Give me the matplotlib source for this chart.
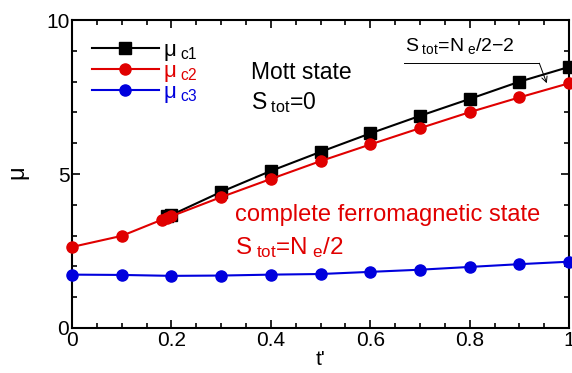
import matplotlib
matplotlib.use("Agg")
import matplotlib.pyplot as plt
from matplotlib.ticker import MultipleLocator

plt.rcParams['font.family'] = ['Liberation Sans', 'DejaVu Sans']
plt.rcParams['mathtext.fontset'] = 'custom'
plt.rcParams['mathtext.rm'] = 'Liberation Sans'
plt.rcParams['mathtext.it'] = 'Liberation Sans'

# mu_c1 (black squares)
t_c1 = [0.19, 0.2, 0.3, 0.4, 0.5, 0.6, 0.7, 0.8, 0.9, 1.0]
mu_c1 = [3.62, 3.67, 4.42, 5.10, 5.72, 6.32, 6.89, 7.44, 8.0, 8.48]

# mu_c2 (red circles)
t_c2 = [0.0, 0.1, 0.18, 0.19, 0.2, 0.3, 0.4, 0.5, 0.6, 0.7, 0.8, 0.9, 1.0]
mu_c2 = [2.63, 2.99, 3.51, 3.57, 3.63, 4.25, 4.84, 5.42, 5.96, 6.49, 7.01, 7.49, 7.95]

# mu_c3 (blue circles)
t_c3 = [0.0, 0.1, 0.2, 0.3, 0.4, 0.5, 0.6, 0.7, 0.8, 0.9, 1.0]
mu_c3 = [1.73, 1.72, 1.69, 1.70, 1.73, 1.75, 1.82, 1.89, 1.98, 2.07, 2.15]

red = '#e00000'
blue = '#0000dd'

fig = plt.figure(figsize=(5.72, 3.73), dpi=100)
ax = fig.add_axes([0.126, 0.121, 0.869, 0.825])

ax.plot(t_c1, mu_c1, color='black', marker='s', markersize=8.5, lw=1.5,
        label=r'$\mu_{\rm\ c1}$', clip_on=False, zorder=3)
ax.plot(t_c2, mu_c2, color=red, marker='o', markersize=8, lw=1.5,
        label=r'$\mu_{\rm\ c2}$', clip_on=False, zorder=4)
ax.plot(t_c3, mu_c3, color=blue, marker='o', markersize=8, lw=1.5,
        label=r'$\mu_{\rm\ c3}$', clip_on=False, zorder=4)

ax.set_xlim(0, 1)
ax.set_ylim(0, 10)
ax.xaxis.set_major_locator(MultipleLocator(0.2))
ax.xaxis.set_minor_locator(MultipleLocator(0.05))
ax.yaxis.set_major_locator(MultipleLocator(5))
ax.yaxis.set_minor_locator(MultipleLocator(1))
ax.set_xticks([0, 0.2, 0.4, 0.6, 0.8, 1.0])
ax.set_xticklabels(['0', '0.2', '0.4', '0.6', '0.8', '1'])
ax.tick_params(which='both', direction='in', top=True, right=True, labelsize=15, width=1.2)
ax.tick_params(which='major', length=6, pad=2)
ax.tick_params(which='minor', length=3.5)
for s in ax.spines.values():
    s.set_linewidth(1.5)

ax.set_xlabel("t'", fontsize=15, labelpad=0)
ax.set_ylabel(r'$\mu$', fontsize=17, labelpad=10)

leg = ax.legend(loc='upper left', bbox_to_anchor=(0.0, 1.0), frameon=False, fontsize=16,
                handlelength=3.0, handletextpad=0.2, labelspacing=-0.1, borderaxespad=0.5)
for txt, c in zip(leg.get_texts(), ['black', red, blue]):
    txt.set_color(c)

ax.text(0.36, 8.3, 'Mott state', fontsize=16.5, va='center')
ax.text(0.36, 7.33, r'$\rm S_{\ tot}$=0', fontsize=16.5, va='center')
ax.text(0.328, 3.68, 'complete ferromagnetic state', fontsize=17, color=red, va='center')
ax.text(0.328, 2.6, r'$\rm S_{\ tot}$=N$_{\rm\ e}$/2', fontsize=17.5, color=red, va='center')

ax.text(0.67, 9.15, r'$\rm S_{\ tot}$=N$_{\rm\ e}$/2$-$2', fontsize=14, va='center')
ax.plot([0.667, 0.94], [8.6, 8.6], color='black', lw=0.7)
ax.annotate('', xy=(0.955, 7.95), xytext=(0.94, 8.6),
            arrowprops=dict(arrowstyle='->', color='black', lw=0.7, shrinkA=0, shrinkB=0))

fig.savefig('out.png', dpi=100)
